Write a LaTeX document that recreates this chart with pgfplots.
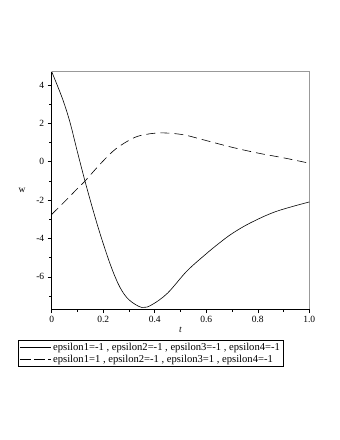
\documentclass[border=0pt]{standalone}
\usepackage{fontspec}
\setmainfont{Liberation Serif}
\usepackage{pgfplots}
\pgfplotsset{compat=1.18}
\begin{document}
\begin{tikzpicture}
\path[use as bounding box] (0pt,0pt) rectangle (340pt,440pt);
\begin{axis}[
  at={(51.7pt,131pt)}, anchor=south west,
  scale only axis, width=257.6pt, height=237.3pt,
  xmin=0, xmax=1, ymin=-7.68, ymax=4.69,
  axis x line*=bottom, axis y line*=left,
  axis line style={black, line width=0.6pt, -},
  xtick={0,0.2,0.4,0.6,0.8,1.0},
  xticklabels={0,0.2,0.4,0.6,0.8,1.0},
  minor xtick={0.1,0.3,0.5,0.7,0.9},
  ytick={-6,-4,-2,0,2,4},
  minor ytick={-7,-5,-3,-1,1,3},
  tick align=outside,
  major tick length=4pt, minor tick length=2.5pt,
  tick style={black, line width=0.5pt},
  ticklabel style={font=\fontsize{9.5}{10}\selectfont},
  /pgf/number format/assume math mode=true,
  xlabel={\textit{t}}, ylabel={w},
  xlabel style={font=\fontsize{9.5}{10}\selectfont, at={(axis description cs:0.5,-0.0885)}, anchor=center},
  ylabel style={font=\fontsize{9.5}{10}\selectfont, rotate=-90, at={(axis description cs:-0.115,0.5)}, anchor=center},
  clip=false,
  legend cell align=left,
  legend style={at={(axis description cs:-0.1298,-0.1306)}, anchor=north west,
    draw=black, line width=0.6pt, font=\fontsize{10.6}{11}\selectfont,
    inner sep=1pt, row sep=-1.5pt},
  legend image code/.code={\path (0pt,0pt) -- (31pt,0pt);\draw[#1, line width=0.6pt] (2pt,0pt) -- (28pt,0pt);},
]
\draw[gray!80, line width=1pt] (rel axis cs:0,1) -- (rel axis cs:1,1) -- (rel axis cs:1,0);
\addplot[black, line width=0.6pt, smooth, tension=0.55] coordinates {
(0,4.69) (0.04,3.35) (0.07,2.1) (0.1,0.5) (0.13,-1.05) (0.16,-2.5)
(0.19,-3.85) (0.23,-5.45) (0.265,-6.55) (0.3,-7.2) (0.35,-7.6) (0.39,-7.45)
(0.45,-6.85) (0.525,-5.7) (0.6,-4.8) (0.65,-4.25) (0.7,-3.75) (0.77,-3.2)
(0.87,-2.6) (1.0,-2.1)};
\addlegendentry{epsilon1=-1 , epsilon2=-1 , epsilon3=-1 , epsilon4=-1}
\addplot[black, line width=0.6pt, dash pattern=on 9pt off 5pt, smooth, tension=0.55] coordinates {
(0,-2.75) (0.06,-1.95) (0.1,-1.4) (0.13,-1.0) (0.19,-0.1) (0.25,0.68)
(0.32,1.25) (0.37,1.43) (0.42,1.5) (0.47,1.47) (0.52,1.38) (0.6,1.1)
(0.7,0.75) (0.8,0.45) (0.9,0.2) (1.0,-0.08)};
\addlegendentry{epsilon1=1 , epsilon2=-1 , epsilon3=1 , epsilon4=-1}
\end{axis}
\end{tikzpicture}
\end{document}
